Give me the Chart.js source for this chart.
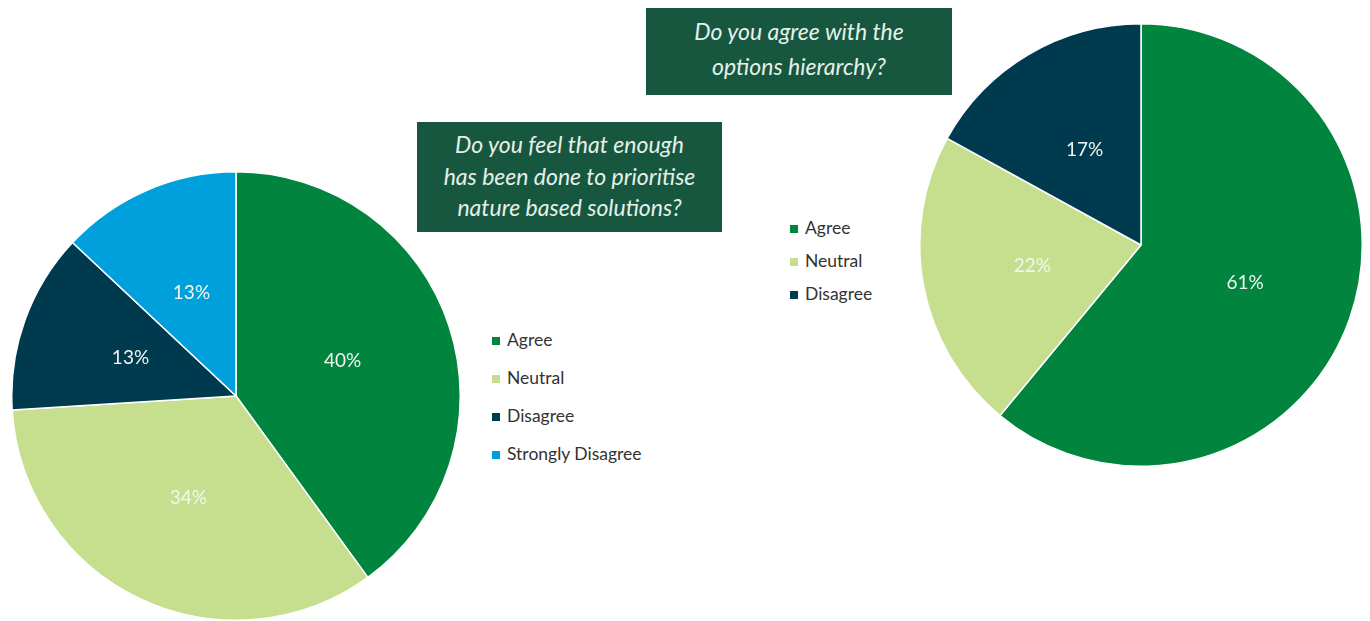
<!DOCTYPE html>
<html>
<head>
<meta charset="utf-8">
<title>Survey results</title>
<script src="https://cdn.jsdelivr.net/npm/chart.js@4/dist/chart.umd.min.js"></script>
<style>
    body {
        margin: 0;
        background: #ffffff;
        font-family: Lato, "Open Sans", sans-serif;
    }
    .page {
        position: relative;
        width: 1370px;
        height: 621px;
        overflow: hidden;
    }
    .page canvas {
        position: absolute;
    }
    .question {
        position: absolute;
        background: #18573f;
        color: #e4f1ea;
        font-style: italic;
        font-size: 23px;
        text-align: center;
        box-sizing: border-box;
        z-index: 2;
    }
    .legend {
        position: absolute;
        font-size: 17.5px;
        color: #333333;
    }
    .legend div {
        position: absolute;
        white-space: nowrap;
        line-height: 20px;
    }
    .legend span {
        display: inline-block;
        width: 8px;
        height: 8px;
        margin-right: 7px;
        vertical-align: 1px;
    }
</style>
</head>
<body>
<div class="page">
    <div class="question" id="q1" style="left:417px; top:122px; width:305px; height:110px; padding-top:7px; line-height:31.5px;"></div>
    <div class="question" id="q2" style="left:646px; top:8px; width:306px; height:87px; padding-top:6px; line-height:35px;"></div>

    <canvas id="natureChart" width="450" height="450" style="left:11px; top:171px;"></canvas>
    <canvas id="hierarchyChart" width="444" height="444" style="left:919px; top:23px;"></canvas>

    <div class="legend" id="natureLegend" style="left:492px; top:330px;"></div>
    <div class="legend" id="hierarchyLegend" style="left:790px; top:218px;"></div>
</div>

<script>
// question 1: has enough been done to prioritise nature based solutions
const natureQuestion = ['Do you feel that enough', 'has been done to prioritise', 'nature based solutions?'];
const natureLabels = ['Agree', 'Neutral', 'Disagree', 'Strongly Disagree'];
const natureValues = [40, 34, 13, 13];

// question 2: agreement with the options hierarchy
const hierarchyQuestion = ['Do you agree with the', 'options hierarchy?'];
const hierarchyLabels = ['Agree', 'Neutral', 'Disagree'];
const hierarchyValues = [61, 22, 17];

const sliceColors = {
    'Agree': '#00843e',
    'Neutral': '#c6df8e',
    'Disagree': '#003a4f',
    'Strongly Disagree': '#00a0dc'
};

// percent labels drawn in the middle of each slice
const sliceLabels = {
    id: 'sliceLabels',
    afterDatasetsDraw(chart) {
        const ctx = chart.ctx;
        const meta = chart.getDatasetMeta(0);
        const values = chart.data.datasets[0].data;
        ctx.save();
        ctx.font = '19px Lato, "Open Sans", sans-serif';
        ctx.fillStyle = '#f2f5f2';
        ctx.textAlign = 'center';
        ctx.textBaseline = 'middle';
        meta.data.forEach((arc, i) => {
            const pos = arc.tooltipPosition();
            ctx.fillText(values[i] + '%', pos.x, pos.y);
        });
        ctx.restore();
    }
};

const makePie = (canvasId, labels, values) => {
    const ctx = document.getElementById(canvasId);
    return new Chart(ctx, {
        type: 'pie',
        data: {
            labels: labels,
            datasets: [{
                data: values,
                backgroundColor: labels.map(l => sliceColors[l]),
                borderColor: '#ffffff',
                borderWidth: 1.5
            }]
        },
        options: {
            responsive: false,
            animation: false,
            plugins: {
                legend: { display: false },
                tooltip: { enabled: false }
            }
        },
        plugins: [sliceLabels]
    });
};

const fillQuestion = (id, lines) => {
    document.getElementById(id).innerHTML = lines.join('<br>');
};

const fillLegend = (id, labels, step) => {
    const box = document.getElementById(id);
    labels.forEach((label, i) => {
        const row = document.createElement('div');
        row.style.top = (i * step) + 'px';
        row.innerHTML = '<span style="background:' + sliceColors[label] + '"></span>' + label;
        box.appendChild(row);
    });
};

fillQuestion('q1', natureQuestion);
fillQuestion('q2', hierarchyQuestion);
fillLegend('natureLegend', natureLabels, 38);
fillLegend('hierarchyLegend', hierarchyLabels, 33);

makePie('natureChart', natureLabels, natureValues);
makePie('hierarchyChart', hierarchyLabels, hierarchyValues);
</script>
</body>
</html>
